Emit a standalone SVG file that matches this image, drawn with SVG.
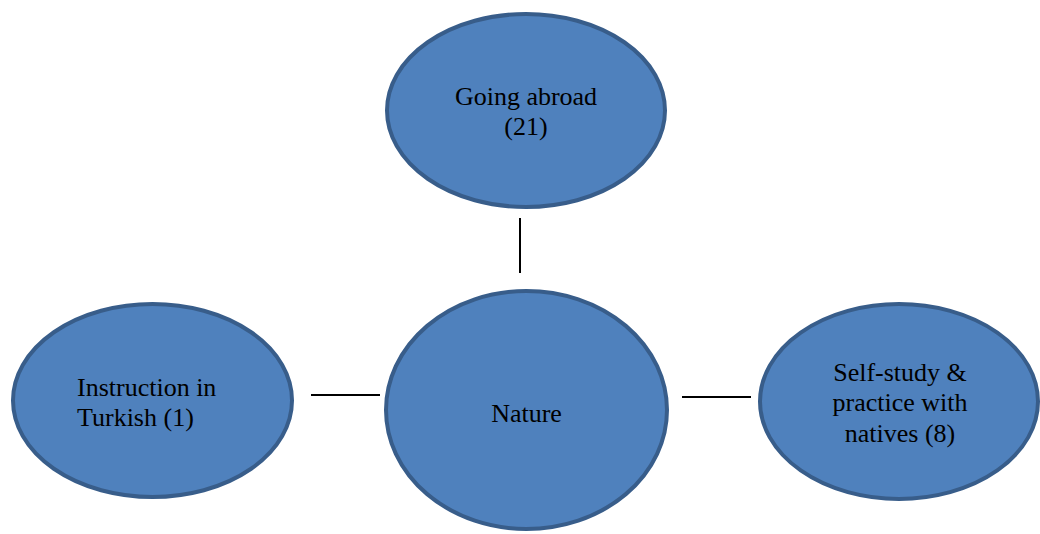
<svg xmlns="http://www.w3.org/2000/svg" width="1040" height="534" viewBox="0 0 1040 534">
<style>
.node{fill:#4F81BD;stroke:#385D8A;stroke-width:4}
.lbl{font-family:"Liberation Serif","Times New Roman",serif;font-size:26px;fill:#000}
.c{text-anchor:middle}
.conn line{stroke:#000;stroke-width:2}
</style>
<rect width="1040" height="534" fill="#fff"/>
<g class="conn" id="connectors">
<line x1="520" y1="218" x2="520" y2="273"/>
<line x1="311" y1="395" x2="380" y2="395"/>
<line x1="682" y1="397" x2="751" y2="397"/>
</g>
<g id="going-abroad">
<ellipse class="node" cx="526" cy="110.5" rx="139" ry="96.5"/>
<text class="lbl c" x="526" y="105">Going abroad</text>
<text class="lbl c" x="526" y="135">(21)</text>
</g>
<g id="instruction-turkish">
<ellipse class="node" cx="152.5" cy="400.5" rx="139.5" ry="96.5"/>
<text class="lbl" x="77" y="396">Instruction in</text>
<text class="lbl" x="77" y="425.5">Turkish (1)</text>
</g>
<g id="nature">
<ellipse class="node" cx="526.5" cy="410" rx="140.5" ry="119"/>
<text class="lbl c" x="526.5" y="422">Nature</text>
</g>
<g id="self-study">
<ellipse class="node" cx="899" cy="401.5" rx="139" ry="97.5"/>
<text class="lbl c" x="900" y="381">Self-study &amp;</text>
<text class="lbl c" x="900" y="411">practice with</text>
<text class="lbl c" x="900" y="441.5">natives (8)</text>
</g>
</svg>
